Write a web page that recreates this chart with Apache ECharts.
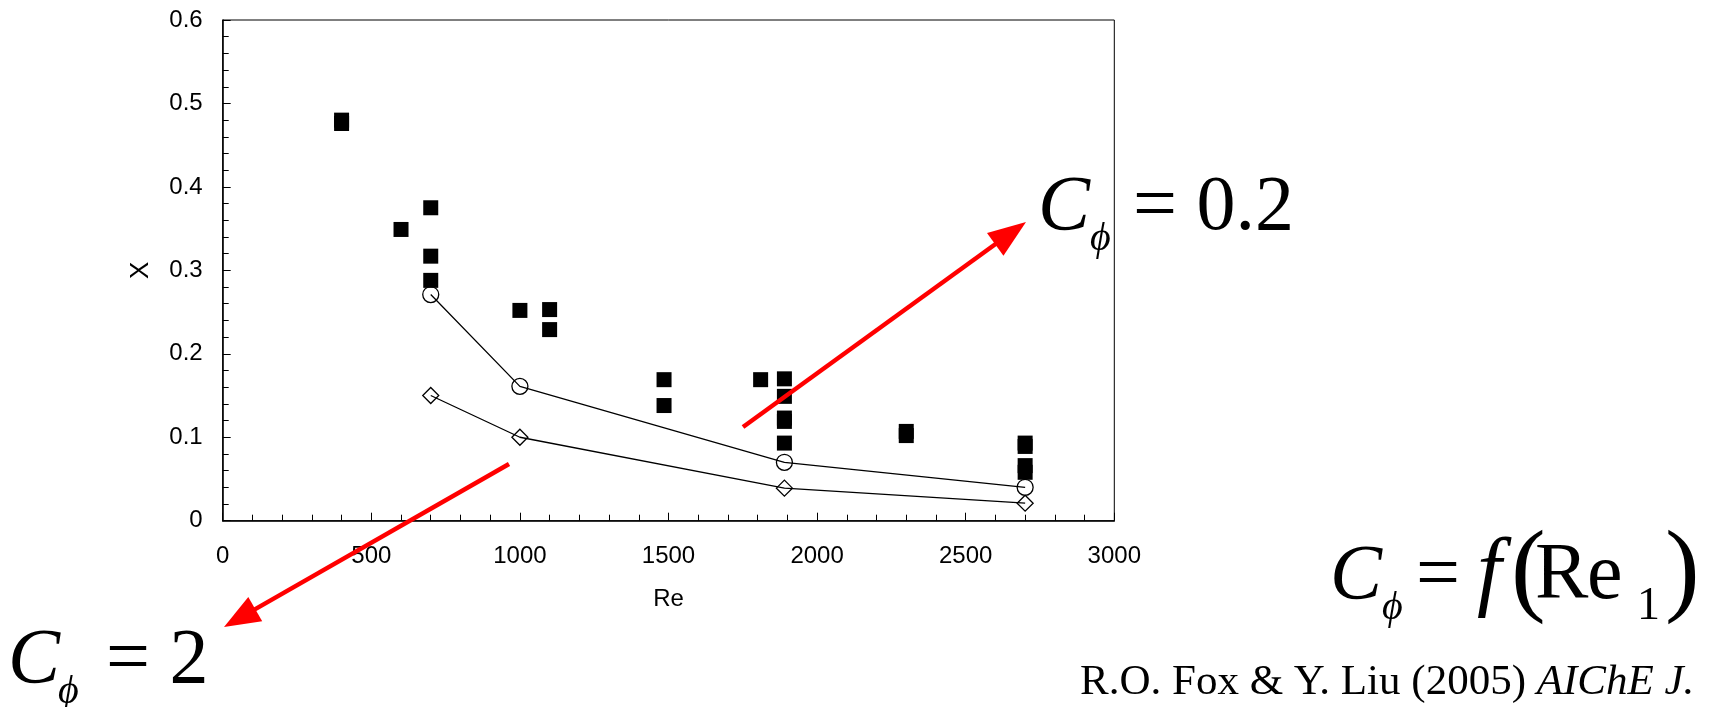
<!DOCTYPE html>
<html>
<head>
<meta charset="utf-8">
<script src="https://cdn.jsdelivr.net/npm/echarts@6/dist/echarts.min.js"></script>
<style>
  html, body { margin: 0; padding: 0; background: #fff; }
  #chart { width: 1713px; height: 707px; }
</style>
</head>
<body>
<div id="chart"></div>
<script>
// measured points (filled squares)
const squareRe = [400, 400, 600, 700, 700, 700, 1000, 1100, 1100, 1485, 1485, 1810,
  1890, 1890, 1890, 1890, 1890, 2300, 2300, 2700, 2700, 2700, 2700]
const squareX = [0.480, 0.476, 0.349, 0.375, 0.317, 0.288, 0.252, 0.253, 0.229, 0.169, 0.138, 0.169,
  0.170, 0.149, 0.123, 0.119, 0.093, 0.107, 0.102, 0.093, 0.089, 0.066, 0.058]

// model curves
const curveRe = [700, 1000, 1890, 2700]
const circleX = [0.271, 0.161, 0.070, 0.040]
const diamondX = [0.150, 0.100, 0.039, 0.021]

const xTicks = { min: 0, max: 3000, interval: 500 }
const yTicks = { min: 0, max: 0.6, interval: 0.1 }

const zip = (a, b) => a.map((v, i) => [v, b[i]])

const serif = 'Liberation Serif'
const sans = 'Liberation Sans'

// text piece placed by its baseline
const piece = (text, x, base, size, italic) => ({
  type: 'text',
  style: {
    text: text, x: x, y: base - 0.3375 * size,
    fontFamily: serif, fontSize: size, fontStyle: italic ? 'italic' : 'normal',
    fill: '#000', align: 'left', verticalAlign: 'middle'
  },
  z: 100
})

// red arrow
const arrow = (x1, y1, x2, y2, headLen, headHalf) => {
  const dx = x2 - x1, dy = y2 - y1
  const len = Math.hypot(dx, dy)
  const ux = dx / len, uy = dy / len
  const bx = x2 - ux * headLen, by = y2 - uy * headLen
  return [
    { type: 'line', shape: { x1: x1, y1: y1, x2: bx + ux * 3, y2: by + uy * 3 },
      style: { stroke: '#ff0000', lineWidth: 4.5 }, z: 100 },
    { type: 'polygon',
      shape: { points: [[x2, y2], [bx - uy * headHalf, by + ux * headHalf], [bx + uy * headHalf, by - ux * headHalf]] },
      style: { fill: '#ff0000' }, z: 100 }
  ]
}

const graphics = [].concat(
  arrow(743, 427, 1026, 222, 38, 14),
  arrow(509, 464, 224, 627, 36, 14),
  // C_phi = 0.2
  [piece('C', 1038, 235, 78, true), piece('ϕ', 1090, 253, 40, true), piece('= 0.2', 1133, 235, 78, false)],
  // C_phi = 2
  [piece('C', 8, 688, 78, true), piece('ϕ', 58, 706, 40, true), piece('= 2', 106, 688, 78, false)],
  // C_phi = f(Re_1)
  [piece('C', 1330, 604, 78, true), piece('ϕ', 1382, 622, 40, true), piece('=', 1416, 604, 78, false),
   piece('f', 1477, 606, 88, true), piece('(', 1511, 610, 104, false),
   piece('R', 1535, 604, 80, false), piece('e', 1587, 604, 80, false),
   piece('1', 1637, 622, 46, false), piece(')', 1665, 610, 104, false)],
  [{
    type: 'text',
    style: {
      text: 'R.O. Fox & Y. Liu (2005) {i|AIChE J.}',
      x: 1080, y: 697 - 0.3375 * 43,
      fontFamily: serif, fontSize: 43, fill: '#000', align: 'left', verticalAlign: 'middle',
      rich: { i: { fontStyle: 'italic', fontSize: 43, fontFamily: serif, fill: '#000' } }
    },
    z: 100
  }]
)

const axisCommon = {
  axisLine: { show: true, lineStyle: { color: '#000', width: 1.5 } },
  axisTick: { show: true, inside: true, length: 8, lineStyle: { color: '#000', width: 1 } },
  minorTick: { show: true, splitNumber: 5, length: 6, lineStyle: { color: '#000', width: 1 } },
  splitLine: { show: false },
  minorSplitLine: { show: false },
  nameLocation: 'middle',
  nameTextStyle: { color: '#000', fontFamily: sans, fontSize: 24 }
}

const myChart = echarts.init(document.getElementById('chart'))
const option = {
  backgroundColor: '#fff',
  animation: false,
  grid: { left: 222.7, top: 20, right: 598.7, bottom: 186.3, show: true, borderColor: '#000', borderWidth: 1 },
  xAxis: Object.assign({}, axisCommon, {
    type: 'value', min: xTicks.min, max: xTicks.max, interval: xTicks.interval,
    name: 'Re', nameGap: 67,
    axisLabel: { color: '#000', fontFamily: sans, fontSize: 24, margin: 24,
      formatter: v => String(v) }
  }),
  yAxis: Object.assign({}, axisCommon, {
    type: 'value', min: yTicks.min, max: yTicks.max, interval: yTicks.interval,
    name: 'X', nameGap: 69,
    nameTextStyle: { color: '#000', fontFamily: sans, fontSize: 26 },
    axisLabel: { color: '#000', fontFamily: sans, fontSize: 24, margin: 20,
      formatter: v => (v === 0 ? '0' : v.toFixed(1)) }
  }),
  series: [
    {
      type: 'line', data: zip(curveRe, circleX),
      symbol: 'circle', symbolSize: 16,
      lineStyle: { color: '#000', width: 1.3 },
      itemStyle: { color: 'rgba(0,0,0,0)', borderColor: '#000', borderWidth: 1.3 },
      z: 3
    },
    {
      type: 'line', data: zip(curveRe, diamondX),
      symbol: 'diamond', symbolSize: 16,
      lineStyle: { color: '#000', width: 1.3 },
      itemStyle: { color: 'rgba(0,0,0,0)', borderColor: '#000', borderWidth: 1.3 },
      z: 3
    },
    {
      type: 'scatter', data: zip(squareRe, squareX),
      symbol: 'rect', symbolSize: 15,
      itemStyle: { color: '#000', opacity: 1 },
      z: 2
    }
  ],
  graphic: graphics
}
myChart.setOption(option)
</script>
</body>
</html>
